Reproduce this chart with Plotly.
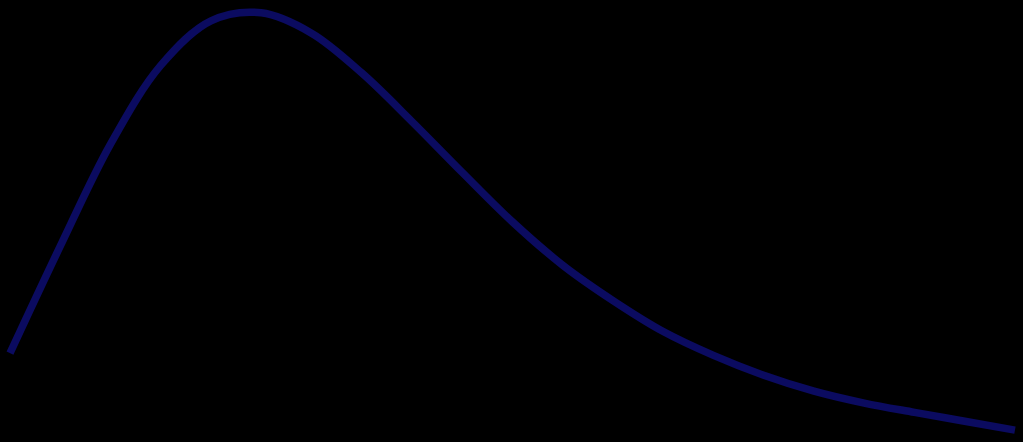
import plotly.graph_objs as go

# curve sampled along the horizontal axis
x_vals = [0, 5, 10, 15, 20, 25, 30, 35, 40, 45, 50,
          55, 60, 65, 70, 75, 80, 85, 90, 95, 100]
y_vals = [20.1, 44.3, 67.4, 85.2, 95.3, 97.1, 92.5, 83.5, 72.5, 61.0, 49.8,
          40.0, 32.0, 25.0, 19.6, 15.1, 11.5, 8.8, 6.7, 4.7, 2.7]

trace = go.Scatter(
    x=x_vals,
    y=y_vals,
    mode="lines",
    line=dict(color="#0b0b60", width=7.5, shape="spline"),
    hoverinfo="skip",
)

layout = go.Layout(
    width=1023,
    height=442,
    margin=dict(l=0, r=0, t=0, b=0),
    paper_bgcolor="black",
    plot_bgcolor="black",
    showlegend=False,
    xaxis=dict(visible=False, range=[-0.995, 100.8]),
    yaxis=dict(visible=False, range=[0, 100]),
)

fig = go.Figure(data=[trace], layout=layout)
fig.write_html("out.html", config={"displayModeBar": False})

# drop the default page margin so the figure fills the window
with open("out.html", encoding="utf-8") as f:
    html = f.read()
html = html.replace("<body>", '<body style="margin:0;background:black;">', 1)
with open("out.html", "w", encoding="utf-8") as f:
    f.write(html)
